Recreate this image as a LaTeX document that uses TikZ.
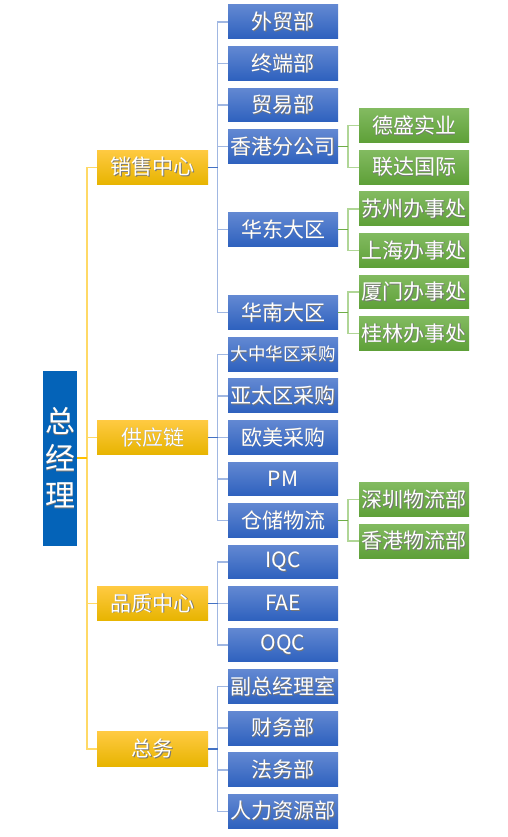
\documentclass[tikz,border=0pt]{standalone}
\usepackage{fontspec}
\setmainfont{Noto Sans CJK SC}
\definecolor{rootblue}{RGB}{4,99,184}
\definecolor{ortop}{RGB}{255,202,66}
\definecolor{ormid}{RGB}{255,196,0}
\definecolor{orbot}{RGB}{231,180,0}
\definecolor{bltop}{RGB}{98,136,210}
\definecolor{blbot}{RGB}{46,97,190}
\definecolor{grtop}{RGB}{130,186,96}
\definecolor{grbot}{RGB}{94,160,56}
\definecolor{ylline}{RGB}{255,217,102}
\definecolor{yldark}{RGB}{255,192,0}
\definecolor{blline}{RGB}{160,183,226}
\definecolor{bldark}{RGB}{68,114,196}
\definecolor{grline}{RGB}{176,214,150}
\definecolor{grdark}{RGB}{112,173,71}
\definecolor{shade}{RGB}{60,60,60}
\newcommand\shtxt[1]{\leavevmode\rlap{\raisebox{-0.6pt}{\hspace{0.6pt}\textcolor{shade!70}{#1}}}#1}
\begin{document}
\begin{tikzpicture}[x=1pt,y=-1pt,
  base/.style={rectangle, inner sep=0pt, text=white, font=\fontsize{21}{24}\selectfont},
  rootbox/.style={base, fill=rootblue, minimum width=34pt, minimum height=175pt, align=center, font=\fontsize{30}{37}\selectfont},
  orbox/.style={base, top color=ortop, middle color=ormid, bottom color=orbot, minimum width=111pt, minimum height=34.5pt},
  blbox/.style={base, top color=bltop, bottom color=blbot, minimum width=110pt, minimum height=33.7pt},
  grbox/.style={base, top color=grtop, bottom color=grbot, minimum width=110pt, minimum height=33.7pt},
  smalltext/.style={font=\fontsize{17.5}{20}\selectfont},
  yl/.style={draw=ylline, line width=1.5pt},
  yld/.style={draw=yldark, line width=1.5pt},
  bl/.style={draw=blline, line width=1.5pt},
  bld/.style={draw=bldark, line width=1.5pt},
  gr/.style={draw=grline, line width=1.5pt},
  grd/.style={draw=grdark, line width=1.5pt}
]
\useasboundingbox (0,0) rectangle (507,837);
\fill[white] (0,0) rectangle (507,837);
\def\rp{41.55}
\def\ry{21.85}
% root
\node[rootbox] (root) at (60,458.1) {\shtxt{总}\\\shtxt{经}\\\shtxt{理}};
% level 1
\node[orbox] (s1) at (152.5,{\ry+3.5*\rp}) {\shtxt{销售中心}};
\node[orbox] (s2) at (152.5,{\ry+10*\rp}) {\shtxt{供应链}};
\node[orbox] (s3) at (152.5,{\ry+14*\rp}) {\shtxt{品质中心}};
\node[orbox] (s4) at (152.5,{\ry+17.5*\rp}) {\shtxt{总务}};
% level 2
\node[blbox] (b0) at (283,{\ry+0*\rp}) {\shtxt{外贸部}};
\node[blbox] (b1) at (283,{\ry+1*\rp}) {\shtxt{终端部}};
\node[blbox] (b2) at (283,{\ry+2*\rp}) {\shtxt{贸易部}};
\node[blbox] (b3) at (283,{\ry+3*\rp}) {\shtxt{香港分公司}};
\node[blbox] (b5) at (283,{\ry+5*\rp}) {\shtxt{华东大区}};
\node[blbox] (b7) at (283,{\ry+7*\rp}) {\shtxt{华南大区}};
\node[blbox,smalltext] (b8) at (283,{\ry+8*\rp}) {\shtxt{大中华区采购}};
\node[blbox] (b9) at (283,{\ry+9*\rp}) {\shtxt{亚太区采购}};
\node[blbox] (b10) at (283,{\ry+10*\rp}) {\shtxt{欧美采购}};
\node[blbox] (b11) at (283,{\ry+11*\rp}) {\shtxt{PM}};
\node[blbox] (b12) at (283,{\ry+12*\rp}) {\shtxt{仓储物流}};
\node[blbox] (b13) at (283,{\ry+13*\rp}) {\shtxt{IQC}};
\node[blbox] (b14) at (283,{\ry+14*\rp}) {\shtxt{FAE}};
\node[blbox] (b15) at (283,{\ry+15*\rp}) {\shtxt{OQC}};
\node[blbox] (b16) at (283,{\ry+16*\rp}) {\shtxt{副总经理室}};
\node[blbox] (b17) at (283,{\ry+17*\rp}) {\shtxt{财务部}};
\node[blbox] (b18) at (283,{\ry+18*\rp}) {\shtxt{法务部}};
\node[blbox] (b19) at (283,{\ry+19*\rp}) {\shtxt{人力资源部}};
% level 3
\node[grbox] (g1) at (414,{\ry+2.5*\rp}) {\shtxt{德盛实业}};
\node[grbox] (g2) at (414,{\ry+3.5*\rp}) {\shtxt{联达国际}};
\node[grbox] (g3) at (414,{\ry+4.5*\rp}) {\shtxt{苏州办事处}};
\node[grbox] (g4) at (414,{\ry+5.5*\rp}) {\shtxt{上海办事处}};
\node[grbox] (g5) at (414,{\ry+6.5*\rp}) {\shtxt{厦门办事处}};
\node[grbox] (g6) at (414,{\ry+7.5*\rp}) {\shtxt{桂林办事处}};
\node[grbox] (g7) at (414,{\ry+11.5*\rp}) {\shtxt{深圳物流部}};
\node[grbox] (g8) at (414,{\ry+12.5*\rp}) {\shtxt{香港物流部}};
% connectors root -> level 1
\foreach \c in {s1,s2,s3,s4} \draw[yl] (root.east) -- ++(10,0) |- (\c.west);
\draw[yld] (root.east) -- ++(10,0);
% level 1 -> level 2
\foreach \c in {b0,b1,b2,b3,b5,b7} \draw[bl] (s1.east) -- ++(9.5,0) |- (\c.west);
\foreach \c in {b8,b9,b10,b11,b12} \draw[bl] (s2.east) -- ++(9.5,0) |- (\c.west);
\foreach \c in {b13,b14,b15} \draw[bl] (s3.east) -- ++(9.5,0) |- (\c.west);
\foreach \c in {b16,b17,b18,b19} \draw[bl] (s4.east) -- ++(9.5,0) |- (\c.west);
\foreach \p in {s1,s2,s3,s4} \draw[bld] (\p.east) -- ++(9.5,0);
% level 2 -> level 3
\foreach \c in {g1,g2} \draw[gr] (b3.east) -- ++(10,0) |- (\c.west);
\foreach \c in {g3,g4} \draw[gr] (b5.east) -- ++(10,0) |- (\c.west);
\foreach \c in {g5,g6} \draw[gr] (b7.east) -- ++(10,0) |- (\c.west);
\foreach \c in {g7,g8} \draw[gr] (b12.east) -- ++(10,0) |- (\c.west);
\foreach \p in {b3,b5,b7,b12} \draw[grd] (\p.east) -- ++(10,0);
\end{tikzpicture}
\end{document}
